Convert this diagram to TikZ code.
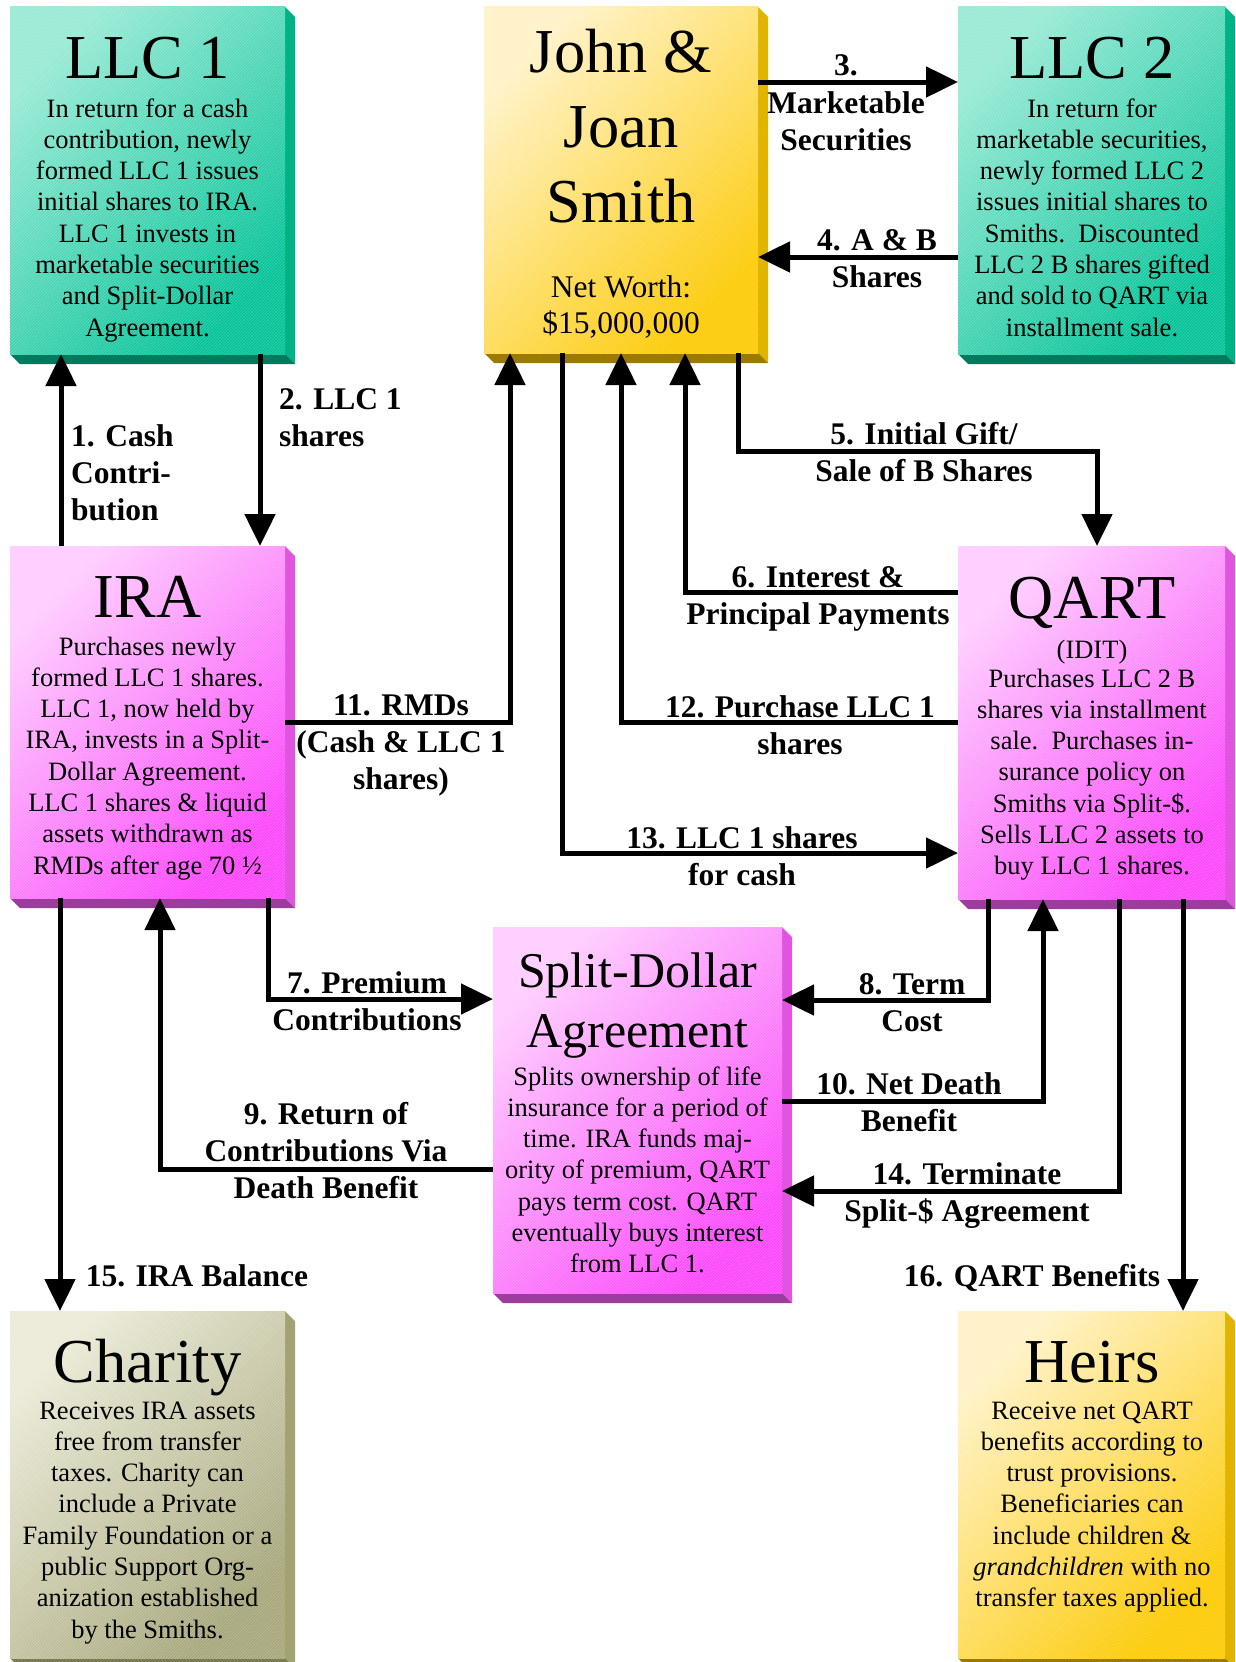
\documentclass[tikz,border=0pt]{standalone}
\usepackage{fontspec}
\setmainfont{Liberation Serif}
\usetikzlibrary{arrows.meta,patterns,calc}

\definecolor{tealA}{HTML}{96EAD4}
\definecolor{tealB}{HTML}{00C296}
\definecolor{tealS}{HTML}{00B386}
\definecolor{tealD}{HTML}{007A5C}
\definecolor{goldA}{HTML}{FFF2C6}
\definecolor{goldB}{HTML}{FFCA00}
\definecolor{goldS}{HTML}{E0B400}
\definecolor{goldD}{HTML}{9A7A00}
\definecolor{pinkA}{HTML}{FFCCFF}
\definecolor{pinkB}{HTML}{FF44FF}
\definecolor{pinkS}{HTML}{E055E0}
\definecolor{pinkD}{HTML}{9C3C9C}
\definecolor{oliveA}{HTML}{EAEAD6}
\definecolor{oliveB}{HTML}{A6A67A}
\definecolor{oliveS}{HTML}{A2A272}
\definecolor{oliveD}{HTML}{7C7C54}

\newcommand\fTitle{\fontsize{62.5}{75}\selectfont}
\newcommand\fSplit{\fontsize{50}{60}\selectfont}
\newcommand\fBody{\fontsize{26.5}{31.3}\selectfont}
\newcommand\fNet{\fontsize{31.5}{36}\selectfont}
\newcommand\fLbl{\fontsize{31.5}{37}\selectfont\bfseries}
\newcommand\mylines[2]{\begin{tabular}[t]{@{}#1@{}}#2\end{tabular}}

% name, L, T, R, B, palette
\newcommand\bevelbox[6]{%
  \fill[#6S] (#4,#3) -- (#4+10,#3+10) -- (#4+10,#5+10) -- (#4,#5) -- cycle;
  \fill[#6D] (#2,#5) -- (#2+10,#5+10) -- (#4+10,#5+10) -- (#4,#5) -- cycle;
  \node[inner sep=0, outer sep=0, minimum width={(#4)-(#2)}, minimum height={(#5)-(#3)},
        top color=#6A, bottom color=#6B, shading angle=45] (#1) at ({((#2)+(#4))/2},{((#3)+(#5))/2}) {};
  \fill[pattern=north east lines, pattern color=white, opacity=.25] (#1.south west) rectangle (#1.north east);
}

\tikzset{
  txt/.style={inner sep=0, anchor=base, text=black},
  lbl/.style={inner sep=0, anchor=base, text=black, font=\fLbl},
  arr/.style={line width=5pt, line join=miter, -{Triangle[length=32pt,width=30pt]}},
}

\begin{document}
\begin{tikzpicture}[x=1pt,y=-1pt]
\useasboundingbox (0,0) rectangle (1235,1662);
\fill[white] (0,0) rectangle (1235,1662);

% ---------- boxes ----------
\bevelbox{llc1}{10}{7}{285}{354}{teal}
\bevelbox{smith}{484}{7}{758}{353}{gold}
\bevelbox{llc2}{958}{7}{1225}{354}{teal}
\bevelbox{ira}{10}{546}{285}{898}{pink}
\bevelbox{qart}{958}{546}{1225}{899}{pink}
\bevelbox{split}{493}{927}{782}{1293}{pink}
\bevelbox{charity}{10}{1311}{285}{1658}{olive}
\bevelbox{heirs}{958}{1311}{1225}{1658}{gold}

% ---------- box texts ----------
\node[txt, font=\fTitle] (llc1t) at (147.5,78) {LLC 1};
\node[txt, font=\fBody] (llc1b) at (147.5,117) {\mylines{c}{In return for a cash\\contribution, newly\\formed LLC 1 issues\\initial shares to IRA.\\LLC 1 invests in\\marketable securities\\and Split-Dollar\\Agreement.}};

\node[txt, font=\fTitle] (smitht) at (621,72) {\mylines{c}{John \&\\Joan\\Smith}};
\node[txt, font=\fNet] (smithb) at (621,297) {\mylines{c}{Net Worth:\\\$15,000,000}};

\node[txt, font=\fTitle] (llc2t) at (1092,78) {LLC 2};
\node[txt, font=\fBody] (llc2b) at (1092,117) {\mylines{c}{In return for\\marketable securities,\\newly formed LLC 2\\issues initial shares to\\Smiths.\ \ Discounted\\LLC 2 B shares gifted\\and sold to QART via\\installment sale.}};

\node[txt, font=\fTitle] (irat) at (147.5,617) {IRA};
\node[txt, font=\fBody] (irab) at (147.5,655) {\mylines{c}{Purchases newly\\formed LLC 1 shares.\\LLC 1, now held by\\IRA, invests in a Split-\\Dollar Agreement.\\LLC 1 shares \& liquid\\assets withdrawn as\\RMDs after age 70 ½}};

\node[txt, font=\fTitle] (qartt) at (1092,618) {QART};
\node[txt, font=\fBody] (qarti) at (1092,658) {(IDIT)};
\node[txt, font=\fBody] (qartb) at (1092,687) {\mylines{c}{Purchases LLC 2 B\\shares via installment\\sale.\ \ Purchases in-\\surance policy on\\Smiths via Split-\$.\\Sells LLC 2 assets to\\buy LLC 1 shares.}};

\node[txt, font=\fSplit] (splitt) at (637.5,987) {\mylines{c}{Split-Dollar\\Agreement}};
\node[txt, font=\fBody] (splitb) at (637.5,1085) {\mylines{c}{Splits ownership of life\\insurance for a period of\\time. IRA funds maj-\\ority of premium, QART\\pays term cost. QART\\eventually buys interest\\from LLC 1.}};

\node[txt, font=\fTitle] (charityt) at (147.5,1382) {Charity};
\node[txt, font=\fBody] (charityb) at (147.5,1419) {\mylines{c}{Receives IRA assets\\free from transfer\\taxes. Charity can\\include a Private\\Family Foundation or a\\public Support Org-\\anization established\\by the Smiths.}};

\node[txt, font=\fTitle] (heirst) at (1092,1382) {Heirs};
\node[txt, font=\fBody] (heirsb) at (1092,1419) {\mylines{c}{Receive net QART\\benefits according to\\trust provisions.\\Beneficiaries can\\include children \&\\\textit{grandchildren} with no\\transfer taxes applied.}};

% ---------- connector corners ----------
\coordinate (x1) at (61,450);
\coordinate (x2) at (260,450);
\coordinate (y3) at (850,82);
\coordinate (y4) at (850,257);
\coordinate (c5a) at (738,451);
\coordinate (c5b) at (1097,451);
\coordinate (c6) at (685,592);
\coordinate (c12) at (621,722);
\coordinate (c13) at (562,853);
\coordinate (c11) at (510,722);
\coordinate (c7) at (268,999);
\coordinate (c8) at (988,1000);
\coordinate (c10) at (1043,1101);
\coordinate (c14) at (1119,1191);
\coordinate (c9) at (160,1169);
\coordinate (x15) at (60,1100);
\coordinate (x16) at (1183,1100);

% ---------- connectors ----------
\draw[arr] (x1 |- ira.north) -- (x1 |- llc1.south);
\draw[arr] (x2 |- llc1.south) -- (x2 |- ira.north);
\draw[arr] (smith.east |- y3) -- (llc2.west |- y3);
\draw[arr] (llc2.west |- y4) -- (smith.east |- y4);
\draw[arr] (c5a |- smith.south) -- (c5a) -- (c5b) -- (c5b |- qart.north);
\draw[arr] (qart.west |- c6) -- (c6) -- (c6 |- smith.south);
\draw[arr] (qart.west |- c12) -- (c12) -- (c12 |- smith.south);
\draw[arr] (c13 |- smith.south) -- (c13) -- (qart.west |- c13);
\draw[arr] (ira.east |- c11) -- (c11) -- (c11 |- smith.south);
\draw[arr] (c7 |- ira.south) -- (c7) -- (split.west |- c7);
\draw[arr] (c8 |- qart.south) -- (c8) -- (split.east |- c8);
\draw[arr] (split.east |- c10) -- (c10) -- (c10 |- qart.south);
\draw[arr] (c14 |- qart.south) -- (c14) -- (split.east |- c14);
\draw[arr] (split.west |- c9) -- (c9) -- (c9 |- ira.south);
\draw[arr] (x15 |- ira.south) -- (x15 |- charity.north);
\draw[arr] (x16 |- qart.south) -- (x16 |- heirs.north);

% ---------- connector labels ----------
\node[lbl, anchor=base west] (l1) at (71,446) {\mylines{l}{1. Cash\\Contri-\\bution}};
\node[lbl, anchor=base west] (l2) at (279,409) {\mylines{l}{2. LLC 1\\shares}};
\node[lbl] (l3) at (846,76) {\mylines{c}{3.\\Marketable\\Securities}};
\node[lbl] (l4) at (877,250) {\mylines{c}{4. A \& B\\Shares}};
\node[lbl] (l5) at (924,444) {\mylines{c}{5. Initial Gift/\\Sale of B Shares}};
\node[lbl] (l6) at (818,587) {\mylines{c}{6. Interest \&\\Principal Payments}};
\node[lbl] (l12) at (800,717) {\mylines{c}{12. Purchase LLC 1\\shares}};
\node[lbl] (l13) at (742,848) {\mylines{c}{13. LLC 1 shares\\for cash}};
\node[lbl] (l11) at (401,715) {\mylines{c}{11. RMDs\\(Cash \& LLC 1\\shares)}};
\node[lbl] (l7) at (367,993) {\mylines{c}{7. Premium\\Contributions}};
\node[lbl] (l8) at (912,994) {\mylines{c}{8. Term\\Cost}};
\node[lbl] (l9) at (326,1124) {\mylines{c}{9. Return of\\Contributions Via\\Death Benefit}};
\node[lbl] (l10) at (909,1094) {\mylines{c}{10. Net Death\\Benefit}};
\node[lbl] (l14) at (967,1184) {\mylines{c}{14. Terminate\\Split-\$ Agreement}};
\node[lbl] (l15) at (197,1286) {15. IRA Balance};
\node[lbl] (l16) at (1032,1286) {16. QART Benefits};
\end{tikzpicture}
\end{document}
